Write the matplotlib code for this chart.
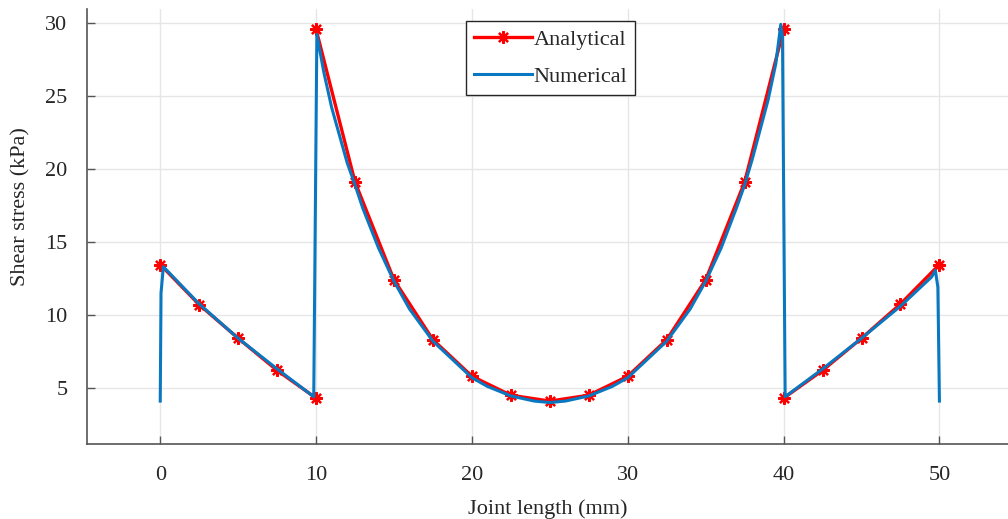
import numpy as np
import matplotlib
matplotlib.use('Agg')
import matplotlib.pyplot as plt

plt.rcParams['font.family'] = ['Liberation Serif', 'DejaVu Serif']

# datos analiticos (NaN corta la linea en los saltos)
x_analitico = [0, 2.5, 5, 7.5, 10, np.nan, 10, 12.5, 15, 17.5, 20, 22.5, 25,
               27.5, 30, 32.5, 35, 37.5, 40, np.nan, 40, 42.5, 45, 47.5, 50]
y_analitico = [13.45, 10.7, 8.4, 6.2, 4.3, np.nan, 29.55, 19.1, 12.4, 8.3, 5.8,
               4.5, 4.1, 4.5, 5.8, 8.3, 12.4, 19.1, 29.55, np.nan, 4.3, 6.2,
               8.4, 10.75, 13.45]

# datos numericos
x_numerico = [0, 0.05, 0.2, 2.5, 5, 7.5, 9.85, 10.05, 10.5, 11, 12, 12.5, 13,
              14, 15, 16, 17.5, 19, 20, 21, 22.5, 24, 25, 26, 27.5, 29, 30,
              31, 32.5, 34, 35, 36, 37, 37.5, 38, 39, 39.5, 39.82, 39.93,
              40.1, 42.5, 45, 47.5, 49.5, 49.74, 49.9, 50]
y_numerico = [4.1, 11.5, 13.3, 10.75, 8.4, 6.3, 4.4, 29.2, 26.6, 24.2, 20.4,
              18.9, 17.3, 14.6, 12.3, 10.4, 8.2, 6.7, 5.7, 5.1, 4.45, 4.1,
              4.0, 4.1, 4.45, 5.1, 5.7, 6.7, 8.2, 10.4, 12.3, 14.6, 17.4,
              18.9, 20.7, 24.7, 27.2, 29.9, 29.0, 4.4, 6.3, 8.4, 10.6, 12.6,
              13.05, 11.9, 4.1]

fig = plt.figure(figsize=(10.08, 5.19), dpi=100)
ax = fig.add_axes([87 / 1008, 75 / 519, 921 / 1008, 435 / 519])

ax.plot(x_analitico, y_analitico, color='r', lw=2.4, marker=(8, 2, 0),
        markersize=9, markeredgewidth=1.6, label='Analytical', zorder=3)
ax.plot(x_numerico, y_numerico, color='#0a78c0', lw=2.2, label='Numerical',
        zorder=4)

ax.set_xlim(-4.7, 54.4)
ax.set_ylim(1.16, 30.95)
ax.set_xticks([0, 10, 20, 30, 40, 50])
ax.set_yticks([5, 10, 15, 20, 25, 30])
ax.grid(True, color='#e6e6e6', lw=1)
ax.set_axisbelow(True)
for lado in ('top', 'right'):
    ax.spines[lado].set_visible(False)
for lado in ('left', 'bottom'):
    ax.spines[lado].set_color('#555555')
    ax.spines[lado].set_linewidth(1.2)
ax.tick_params(direction='in', length=6, width=1, color='#555555',
               labelsize=16, labelcolor='#262626')
ax.tick_params(axis='x', pad=16)
ax.tick_params(axis='y', pad=14)

ax.set_xlabel('Joint length (mm)', fontsize=16, color='#262626', labelpad=10)
ax.set_ylabel('Shear stress (kPa)', fontsize=16, color='#262626', labelpad=10)
ax.yaxis.set_label_coords(-0.061, 0.545)

leg = ax.legend(loc='upper left', bbox_to_anchor=(0.4115, 0.972), fontsize=16,
                handlelength=2.6, handletextpad=0.1, borderpad=0.35,
                labelspacing=0.75, fancybox=False, framealpha=1,
                borderaxespad=0)
leg.get_frame().set_edgecolor('#262626')
leg.get_frame().set_linewidth(1.0)
for t in leg.get_texts():
    t.set_color('#262626')

fig.savefig('out.png', dpi=100)
